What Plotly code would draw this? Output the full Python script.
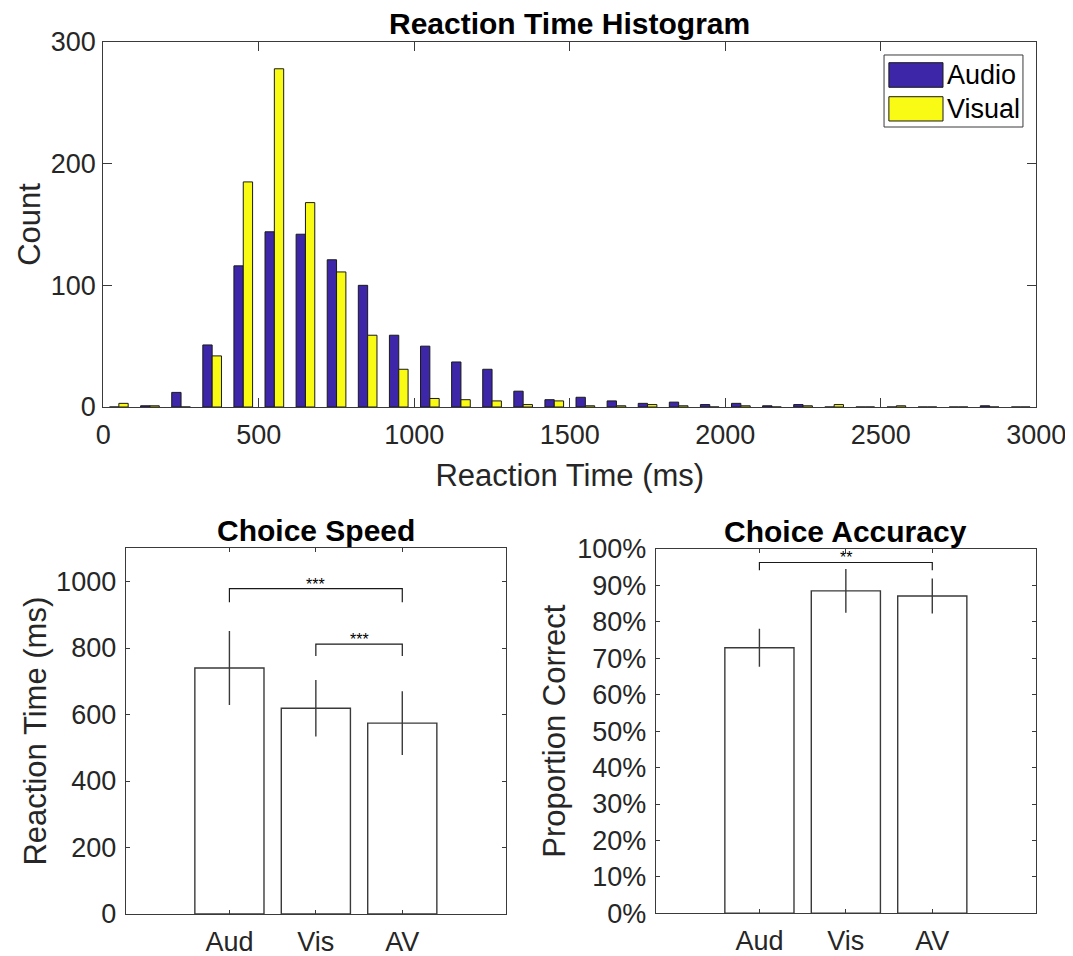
import plotly.graph_objects as go

# ---------------- data ----------------
bin_centers = [50, 150, 250, 350, 450, 550, 650, 750, 850, 950,
               1050, 1150, 1250, 1350, 1450, 1550, 1650, 1750, 1850, 1950,
               2050, 2150, 2250, 2350, 2450, 2550, 2650, 2750, 2850, 2950]
audio_counts = [0, 1, 12, 51, 116, 144, 142, 121, 100, 59,
                50, 37, 31, 13, 6, 8, 5, 3, 4, 2,
                3, 1, 2, 0, 0, 0, 0, 0, 1, 0]
visual_counts = [3, 1, 0, 42, 185, 278, 168, 111, 59, 31,
                 7, 6, 5, 2, 5, 1, 1, 2, 1, 0,
                 1, 0, 1, 2, 0, 1, 0, 0, 0, 0]
hist_xticks = [0, 500, 1000, 1500, 2000, 2500, 3000]
hist_yticks = [0, 100, 200, 300]

conditions = ["Aud", "Vis", "AV"]
cond_pos = [1, 2, 3]
speed_mean = [740, 619, 574]
speed_err = [111, 85, 96]
speed_yticks = [0, 200, 400, 600, 800, 1000]
acc_mean = [0.729, 0.885, 0.871]
acc_err = [0.052, 0.060, 0.048]
acc_yticks = [i / 10 for i in range(11)]

# significance brackets: (from position, to position, bar height, drop, label)
speed_sig = [(1, 3, 979, 41, "***"), (2, 3, 812, 36, "***")]
acc_sig = [(1, 3, 0.963, 0.021, "**")]

# ---------------- style ----------------
FONT = "Liberation Sans, Arial, Helvetica, sans-serif"
AX = "#3a3a3a"
TXT = "#262626"
BLUE = "#3E26A8"
YELLOW = "#F9FB15"

W, H, OFF = 1073, 956, 8  # page offset of the figure (body margin)


def xdom(a, b):
    return [(a - OFF) / W, (b - OFF) / W]


def ydom(top, bottom):
    return [1 - (bottom - OFF) / H, 1 - (top - OFF) / H]


fig = go.Figure()

fig.add_trace(go.Bar(x=bin_centers, y=audio_counts, name="Audio",
                     marker=dict(color=BLUE, line=dict(color="#1a1a1a", width=1)),
                     xaxis="x", yaxis="y", showlegend=False))
fig.add_trace(go.Bar(x=bin_centers, y=visual_counts, name="Visual",
                     marker=dict(color=YELLOW, line=dict(color="#1a1a1a", width=1)),
                     xaxis="x", yaxis="y", showlegend=False))

fig.add_trace(go.Bar(x=cond_pos, y=speed_mean, width=0.8,
                     marker=dict(color="white", line=dict(color=AX, width=1.4)),
                     error_y=dict(type="data", array=speed_err, width=0,
                                  thickness=1.4, color=AX),
                     xaxis="x2", yaxis="y2", showlegend=False))
fig.add_trace(go.Bar(x=cond_pos, y=acc_mean, width=0.8,
                     marker=dict(color="white", line=dict(color=AX, width=1.4)),
                     error_y=dict(type="data", array=acc_err, width=0,
                                  thickness=1.4, color=AX),
                     xaxis="x3", yaxis="y3", showlegend=False))

annotations = []
for sig, xa, ya in ((speed_sig, "x2", "y2"), (acc_sig, "x3", "y3")):
    for x0, x1, h, d, lab in sig:
        fig.add_trace(go.Scatter(x=[x0, x0, x1, x1], y=[h - d, h, h, h - d],
                                 mode="lines", line=dict(color="#1a1a1a", width=1.2),
                                 xaxis=xa, yaxis=ya, showlegend=False,
                                 hoverinfo="skip"))
        annotations.append(dict(x=(x0 + x1) / 2, y=h, xref=xa, yref=ya,
                                text=lab, showarrow=False, yanchor="bottom",
                                yshift=-6, font=dict(size=16, color="black",
                                                     family=FONT)))

# panel titles
for xa, ya, t, sh in (("x", "y", "Reaction Time Histogram", 18),
                      ("x2", "y2", "Choice Speed", 18),
                      ("x3", "y3", "Choice Accuracy", 18)):
    annotations.append(dict(x=0.5, y=1, xref=xa + " domain", yref=ya + " domain",
                            text="<b>" + t + "</b>", showarrow=False,
                            yanchor="middle", yshift=sh,
                            font=dict(size=30, color="black", family=FONT)))

# custom legend (box + swatches) inside the histogram axes
shapes = [dict(type="rect", xref="x domain", yref="y domain",
               x0=0.8368, x1=0.9857, y0=0.7671, y1=0.9644,
               line=dict(color=AX, width=1), fillcolor="white", layer="above")]
for name, col, y0, y1, yc in (("Audio", BLUE, 0.8759, 0.9433, 0.9096),
                              ("Visual", YELLOW, 0.7836, 0.8501, 0.8164)):
    shapes.append(dict(type="rect", xref="x domain", yref="y domain",
                       x0=0.842, x1=0.900, y0=y0, y1=y1,
                       line=dict(color="#1a1a1a", width=1), fillcolor=col,
                       layer="above"))
    annotations.append(dict(x=0.9025, y=yc, xref="x domain", yref="y domain",
                            text=name, showarrow=False, xanchor="left",
                            yanchor="middle",
                            font=dict(size=27, color="black", family=FONT)))

common = dict(showline=True, linecolor=AX, linewidth=1.2, mirror="ticks",
              ticks="inside", tickcolor=AX, tickwidth=1.2, showgrid=False,
              zeroline=False, automargin=False,
              tickfont=dict(size=27, color=TXT, family=FONT),
              title_font=dict(size=31, color=TXT, family=FONT))

fig.update_layout(
    width=W, height=H,
    margin=dict(l=0, r=0, t=0, b=0, autoexpand=False),
    paper_bgcolor="white", plot_bgcolor="white",
    barmode="group", bargap=0.4, bargroupgap=0,
    font=dict(family=FONT),
    xaxis=dict(domain=xdom(103.3, 1036.3), anchor="y", range=[0, 3000],
               tickvals=hist_xticks, ticklen=9, ticklabelstandoff=3,
               title=dict(text="Reaction Time (ms)", standoff=15), **common),
    yaxis=dict(domain=ydom(42, 407), anchor="x", range=[0, 300],
               tickvals=hist_yticks, ticklen=9, ticklabelstandoff=1,
               title=dict(text="Count", standoff=0), **common),
    xaxis2=dict(domain=xdom(125.7, 506), anchor="y2", range=[-0.2, 4.2],
                tickvals=cond_pos, ticktext=conditions, ticklen=4,
                ticklabelstandoff=3, **common),
    yaxis2=dict(domain=ydom(548.3, 914), anchor="x2", range=[0, 1100],
                tickvals=speed_yticks, ticklen=4, ticklabelstandoff=3,
                title=dict(text="Reaction Time (ms)", standoff=0), **common),
    xaxis3=dict(domain=xdom(655.7, 1036), anchor="y3", range=[-0.2, 4.2],
                tickvals=cond_pos, ticktext=conditions, ticklen=4,
                ticklabelstandoff=3, **common),
    yaxis3=dict(domain=ydom(549, 913.3), anchor="x3", range=[0, 1.0],
                tickvals=acc_yticks, tickformat=".0%", ticklen=4,
                ticklabelstandoff=3,
                title=dict(text="Proportion Correct", standoff=2), **common),
    annotations=annotations,
    shapes=shapes,
)

fig.write_html("out.html")
